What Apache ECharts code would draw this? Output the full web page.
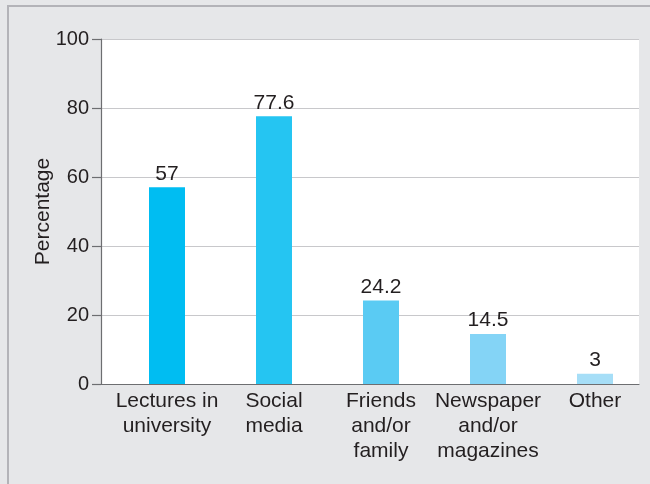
<!DOCTYPE html>
<html>
<head>
<meta charset="utf-8">
<script src="https://cdn.jsdelivr.net/npm/echarts@6/dist/echarts.min.js"></script>
<style>
html,body{margin:0;padding:0;background:#e6e7e9;}
#frame{position:absolute;left:7px;top:5px;width:643px;height:479px;border-left:2px solid #b3b3b8;border-top:2px solid #b3b3b8;box-sizing:border-box;}
#chart{position:absolute;left:0;top:0;width:650px;height:484px;}
</style>
</head>
<body>
<div id="frame"></div>
<div id="chart"></div>
<script>
const categories = ["Lectures in\nuniversity", "Social\nmedia", "Friends\nand/or\nfamily", "Newspaper\nand/or\nmagazines", "Other"];
const values = [57, 77.6, 24.2, 14.5, 3];
const valueLabels = ["57", "77.6", "24.2", "14.5", "3"];
const barColors = ["#00bdf2", "#25c5f2", "#5acbf3", "#84d4f6", "#a6def7"];
const yTicks = [0, 20, 40, 60, 80, 100];

const font = "'Liberation Sans', Arial, sans-serif";
const textColor = "#231f20";

const chart = echarts.init(document.getElementById('chart'), null, {renderer: 'canvas'});
chart.setOption({
  backgroundColor: 'transparent',
  animation: false,
  textStyle: {fontFamily: font},
  grid: [
    {left: 101, right: 11, top: 39, bottom: 100, show: true, backgroundColor: '#ffffff', borderWidth: 0},
    {left: 113.5, right: 1.5, top: 39, bottom: 100}
  ],
  xAxis: [
    {gridIndex: 0, type: 'value', min: 0, max: 1,
      axisLine: {show: true, onZero: false, lineStyle: {color: '#6d6e71', width: 1.2}},
      axisTick: {show: false}, axisLabel: {show: false}, splitLine: {show: false}},
    {gridIndex: 1, type: 'category', data: categories,
      axisLine: {show: false}, axisTick: {show: false}, splitLine: {show: false},
      axisLabel: {color: textColor, fontSize: 21, fontFamily: font, lineHeight: 25, margin: 5, interval: 0}}
  ],
  yAxis: [
    {gridIndex: 0, type: 'value', min: yTicks[0], max: yTicks[yTicks.length - 1], interval: 20,
      name: 'Percentage', nameLocation: 'middle', nameGap: 47, nameRotate: 90, nameMoveOverlap: false,
      nameTextStyle: {color: textColor, fontSize: 21, fontFamily: font},
      axisLine: {show: true, lineStyle: {color: '#6d6e71', width: 1.2}},
      axisTick: {show: true, length: 9, lineStyle: {color: '#6d6e71', width: 1.2}},
      axisLabel: {color: textColor, fontSize: 20, fontFamily: font, margin: 12},
      splitLine: {show: true, lineStyle: {color: '#c8c8cb', width: 1}}},
    {gridIndex: 1, type: 'value', min: yTicks[0], max: yTicks[yTicks.length - 1], interval: 20,
      show: false, splitLine: {show: false}}
  ],
  series: [{
    type: 'bar',
    xAxisIndex: 1, yAxisIndex: 1,
    barWidth: 36,
    data: values.map((v, i) => ({value: v, itemStyle: {color: barColors[i]}})),
    label: {show: true, position: 'top', distance: 3, color: textColor, fontSize: 21, fontFamily: font,
      formatter: p => valueLabels[p.dataIndex]}
  }]
});
</script>
</body>
</html>
